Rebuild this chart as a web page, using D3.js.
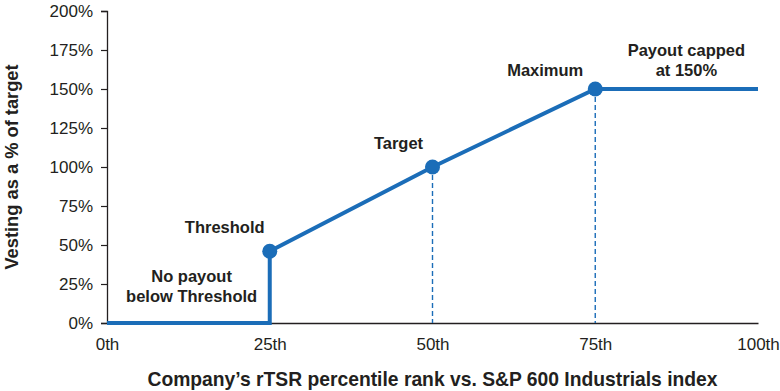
<!DOCTYPE html>
<html>
<head>
<meta charset="utf-8">
<script src="https://cdn.jsdelivr.net/npm/d3@7/dist/d3.min.js"></script>
<style>
  html, body { margin: 0; padding: 0; background: #fff; }
  svg { display: block; font-family: "Liberation Sans", Arial, Helvetica, sans-serif; }
</style>
</head>
<body>
<svg id="chart" width="780" height="391"></svg>
<script>
// ---- data ----
const percentiles = [0, 25, 25, 50, 75, 100];
const vesting     = [0, 0, 46, 100, 150, 150];
const markerPct   = [25, 50, 75];
const markerVest  = [46, 100, 150];
const dashedPct   = [50, 75];
const dashedVest  = [100, 150];
const xTicks      = [0, 25, 50, 75, 100];
const xTickLabels = ["0th", "25th", "50th", "75th", "100th"];
const yTicks      = [0, 25, 50, 75, 100, 125, 150, 175, 200];
const yTickLabels = ["0%", "25%", "50%", "75%", "100%", "125%", "150%", "175%", "200%"];
const xTitle = "Company\u2019s rTSR percentile rank vs. S&P 600 Industrials index";
const yTitle = "Vesting as a % of target";
const labelThreshold = ["Threshold"];
const labelNoPayout  = ["No payout", "below Threshold"];
const labelTarget    = ["Target"];
const labelMaximum   = ["Maximum"];
const labelCapped    = ["Payout capped", "at 150%"];

// ---- layout ----
const svg = d3.select("#chart");
const mLeft = 107, mRight = 758, mTop = 11, mBottom = 323;
const blue = "#1b6db8";
const ink = "#231f20";

const x = d3.scaleLinear().domain([0, 100]).range([mLeft, mRight]);
const y = d3.scaleLinear().domain([0, 200]).range([mBottom, mTop]);

// y axis
const yAxis = d3.axisLeft(y).tickValues(yTicks)
  .tickFormat((d, i) => yTickLabels[i]).tickSize(6).tickPadding(8);
const gy = svg.append("g").attr("transform", `translate(${mLeft},0)`).call(yAxis);
gy.select(".domain").attr("stroke", ink).attr("stroke-width", 1.3);
gy.selectAll(".tick line").attr("stroke", ink).attr("stroke-width", 1.2);
gy.selectAll(".tick text").attr("fill", ink).attr("font-size", 17)
  .attr("font-family", "\"Liberation Sans\", Arial, sans-serif");

// x axis
const xAxis = d3.axisBottom(x).tickValues(xTicks)
  .tickFormat((d, i) => xTickLabels[i]).tickSize(0).tickPadding(15);
const gx = svg.append("g").attr("transform", `translate(0,${mBottom})`).call(xAxis);
gx.select(".domain").attr("stroke", ink).attr("stroke-width", 1.3);
gx.selectAll(".tick text").attr("fill", ink).attr("font-size", 17)
  .attr("font-family", "\"Liberation Sans\", Arial, sans-serif");

// dashed guides
svg.append("g").selectAll("line").data(dashedPct).join("line")
  .attr("x1", d => x(d)).attr("x2", d => x(d))
  .attr("y1", (d, i) => y(dashedVest[i])).attr("y2", y(0))
  .attr("stroke", blue).attr("stroke-width", 1.4).attr("stroke-dasharray", "5,3");

// main line
const pts = percentiles.map((p, i) => [p, vesting[i]]);
svg.append("path").datum(pts)
  .attr("d", d3.line().x(d => x(d[0])).y(d => y(d[1])))
  .attr("fill", "none").attr("stroke", blue).attr("stroke-width", 4)
  .attr("stroke-linejoin", "miter");

// markers
svg.append("g").selectAll("circle").data(markerPct).join("circle")
  .attr("cx", d => x(d)).attr("cy", (d, i) => y(markerVest[i])).attr("r", 7.5)
  .attr("fill", blue);

// annotations
function annot(lines, cx, by, lh) {
  svg.append("text").attr("text-anchor", "middle").attr("font-weight", "bold")
    .attr("font-size", 16.5).attr("fill", ink)
    .selectAll("tspan").data(lines).join("tspan")
    .attr("x", cx).attr("y", (d, i) => by + i * lh).text(d => d);
}
annot(labelThreshold, x(25) - 45, y(46) - 18, 20);
annot(labelNoPayout, x(13), y(0) - 41, 20);
annot(labelTarget, x(50) - 34, y(100) - 18, 20);
annot(labelMaximum, x(75) - 50, y(150) - 13, 20);
annot(labelCapped, x(89), y(150) - 33, 20);

// axis titles
svg.append("text").attr("x", (mLeft + mRight) / 2).attr("y", 386)
  .attr("text-anchor", "middle").attr("font-weight", "bold").attr("font-size", 19.3)
  .attr("fill", ink).text(xTitle);
svg.append("text").attr("transform", `translate(18,167) rotate(-90)`)
  .attr("text-anchor", "middle").attr("font-weight", "bold").attr("font-size", 18.3)
  .attr("fill", ink).text(yTitle);
</script>
</body>
</html>
